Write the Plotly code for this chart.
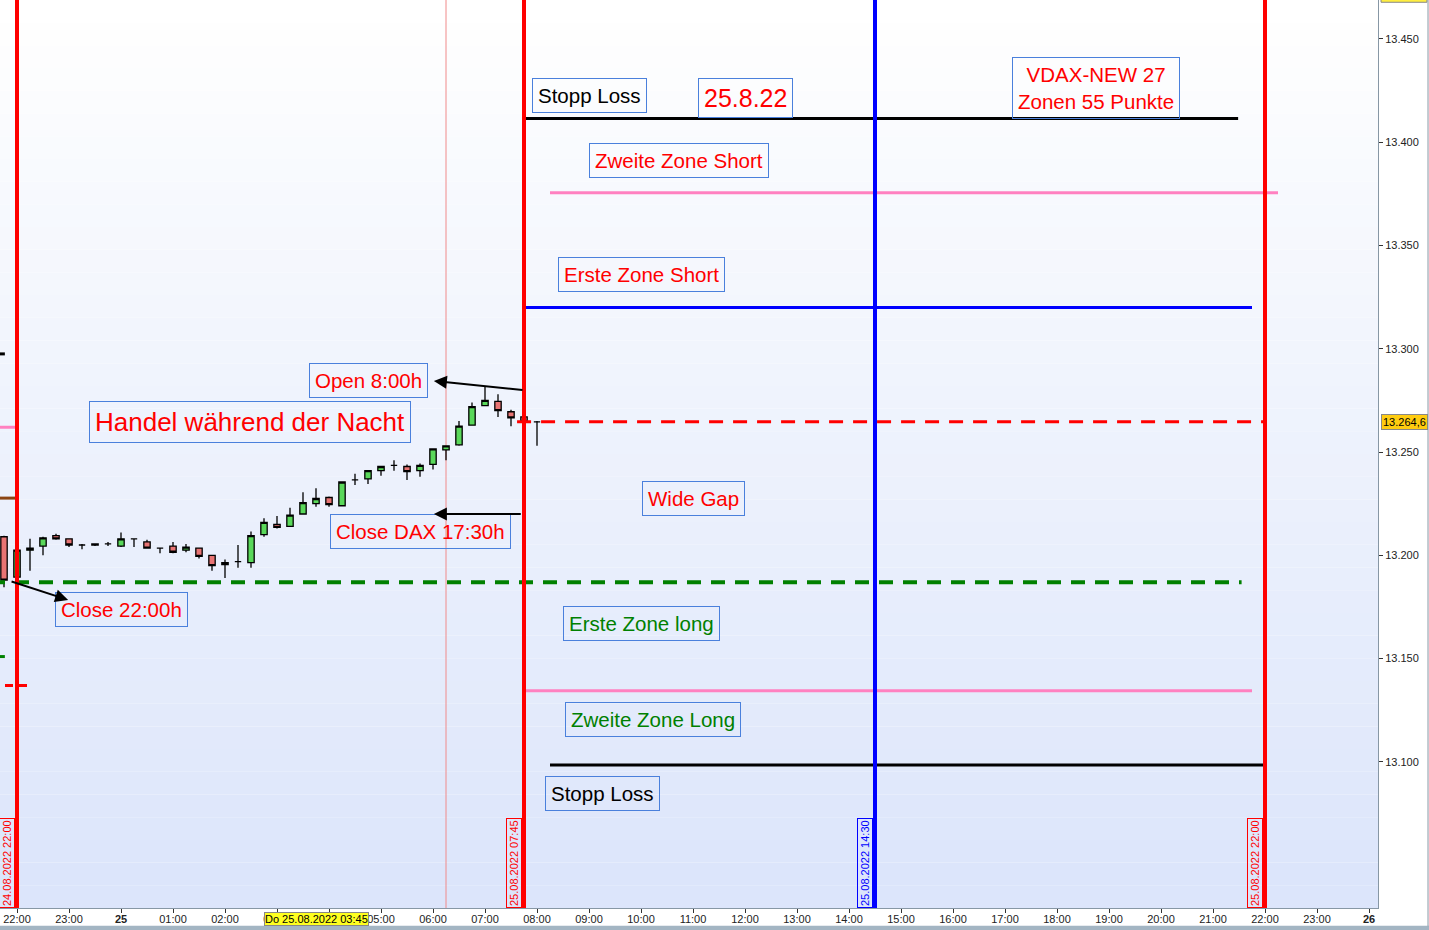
import pandas as pd
from plotly import graph_objs as go

# 15-minute candles, 24.08.2022 21:45 .. 25.08.2022 08:00
candle_times = pd.date_range("2022-08-24 21:45", periods=42, freq="15min")
opens = [13209, 13189.5, 13202.5, 13204.5, 13209.5, 13208, 13205, 13205.5, 13205.5, 13204.5,
         13208, 13206.5, 13203.5, 13204.5, 13202.5, 13203.5, 13200, 13195.5, 13197, 13196.5,
         13210, 13215, 13214, 13220, 13225, 13228, 13224, 13236.5, 13237, 13241,
         13243.5, 13243, 13241, 13244, 13251, 13253.5, 13263, 13272.5, 13274.5, 13269.5,
         13267, 13264.6]
highs = [13209.5, 13202.5, 13208, 13209, 13210.5, 13208, 13205.5, 13205.5, 13206.5, 13211,
         13208, 13207.5, 13203.5, 13206.5, 13205.5, 13203.5, 13200, 13198, 13205, 13211.5,
         13218, 13219, 13223, 13230.5, 13232.5, 13228.5, 13235.5, 13239.5, 13241, 13243,
         13246, 13244, 13244.5, 13251.5, 13253, 13265, 13274, 13282, 13278, 13270.5,
         13267, 13265]
lows = [13184.5, 13189.5, 13192.5, 13200, 13207.5, 13204, 13203, 13204.5, 13204.5, 13204,
        13204, 13203.5, 13201, 13201, 13201.5, 13198.5, 13192.5, 13189, 13194, 13194,
        13209, 13213, 13214, 13220, 13223.5, 13223.5, 13224, 13234, 13234.5, 13238.5,
        13241, 13236.5, 13238, 13241.5, 13246, 13253, 13263, 13272.5, 13267, 13262.5,
        13264.5, 13253]
closes = [13188, 13202.5, 13203.5, 13208.5, 13208, 13205, 13205, 13205, 13205.5, 13208,
          13208, 13203.5, 13203.5, 13201.5, 13204, 13199.5, 13195, 13196.5, 13197, 13209.5,
          13216, 13213.5, 13219.5, 13225.5, 13227.5, 13224.5, 13235.5, 13236.5, 13241, 13243,
          13243.5, 13240.5, 13243.5, 13251.5, 13253, 13262.5, 13272, 13275, 13270, 13266.5,
          13264.5, 13264.6]

last_price = 13264.6
last_price_text = "13.264,6"

# horizontal zone lines
zone_levels = [13411.5, 13375.5, 13320, 13264.6, 13187, 13134.5, 13098.5]
zone_starts = ["2022-08-25 07:45", "2022-08-25 08:15", "2022-08-25 07:45", "2022-08-25 07:37",
               "2022-08-24 21:30", "2022-08-25 07:45", "2022-08-25 08:15"]
zone_ends = ["2022-08-25 21:29", "2022-08-25 22:15", "2022-08-25 21:45", "2022-08-25 21:58",
             "2022-08-25 21:33", "2022-08-25 21:45", "2022-08-25 22:00"]
zone_colors = ["black", "#ff80c0", "#0000ff", "#ff0000", "#008000", "#ff80c0", "black"]
zone_dash = ["solid", "solid", "solid", "dash", "dash", "solid", "solid"]

# stubs of the previous day's lines at the left edge
stub_levels = [13297.5, 13262, 13227.7, 13151, 13137]
stub_ends = ["2022-08-24 21:46", "2022-08-24 21:58", "2022-08-24 21:58", "2022-08-24 21:46", "2022-08-24 22:15"]
stub_colors = ["black", "#ff80c0", "#8b4513", "#008000", "#ff0000"]
stub_dash = ["solid", "solid", "solid", "solid", "dash"]

# vertical markers
marker_times = ["2022-08-24 22:00", "2022-08-25 07:45", "2022-08-25 14:30", "2022-08-25 22:00"]
marker_labels = ["24.08.2022 22:00", "25.08.2022 07:45", "25.08.2022 14:30", "25.08.2022 22:00"]
marker_colors = ["#ff0000", "#ff0000", "#0000ff", "#ff0000"]
thin_line_time = "2022-08-25 06:15"

# text boxes
box_texts = ["Stopp Loss", "25.8.22", "VDAX-NEW 27<br>Zonen 55 Punkte", "Zweite Zone Short",
             "Erste Zone Short", "Open 8:00h", "Handel während der Nacht", "Wide Gap",
             "Close DAX 17:30h", "Close 22:00h", "Erste Zone long", "Zweite Zone Long", "Stopp Loss"]
box_x = ["2022-08-25 09:00", "2022-08-25 12:00", "2022-08-25 18:45", "2022-08-25 10:44",
         "2022-08-25 10:00", "2022-08-25 04:45", "2022-08-25 02:29", "2022-08-25 11:00",
         "2022-08-25 05:45", "2022-08-25 00:00", "2022-08-25 10:00", "2022-08-25 10:14",
         "2022-08-25 09:15"]
box_y = [13422.8, 13421.3, 13426.4, 13391.3, 13335.9, 13284.8, 13264.5, 13227.7,
         13211.5, 13173.8, 13167.2, 13120.5, 13084.5]
box_colors = ["black", "red", "red", "red", "red", "red", "red", "red", "red", "red",
              "green", "green", "black"]
box_sizes = [20.5, 25, 20.5, 20.5, 20.5, 20.5, 26, 20.5, 20.5, 20.5, 20.5, 20.5, 20.5]

# arrows: head and tail
arrow_head_x = ["2022-08-25 06:01", "2022-08-25 06:01", "2022-08-24 22:59"]
arrow_head_y = [13284.4, 13220, 13178.4]
arrow_tail_x = ["2022-08-25 07:45", "2022-08-25 07:43", "2022-08-24 21:52"]
arrow_tail_y = [13280, 13220, 13187.6]

tick_times = pd.date_range("2022-08-24 22:00", periods=27, freq="1h")
tick_labels = [("<b>25</b>" if t.hour == 0 and t.day == 25 else "<b>26</b>" if t.hour == 0 else t.strftime("%H:%M"))
               for t in tick_times]
price_ticks = [13100, 13150, 13200, 13250, 13300, 13350, 13400, 13450]
price_labels = ["13.100", "13.150", "13.200", "13.250", "13.300", "13.350", "13.400", "13.450"]

font = "Arial, Liberation Sans, sans-serif"

fig = go.Figure()
fig.add_trace(
    go.Candlestick(
        x=candle_times, open=opens, high=highs, low=lows, close=closes,
        increasing=dict(line=dict(color="black", width=1.3), fillcolor="#5ad85a"),
        decreasing=dict(line=dict(color="black", width=1.3), fillcolor="#e87474"),
        whiskerwidth=0,
        showlegend=False,
        hoverinfo="skip",
    )
)

shapes = []
# gradient background
steps = 40
for i in range(steps):
    f = i / (steps - 1)
    r = int(220 + (255 - 220) * f)
    g = int(229 + (255 - 229) * f)
    b = int(251 + (255 - 251) * f)
    shapes.append(dict(type="rect", xref="paper", yref="paper", x0=0, x1=1,
                       y0=i / steps, y1=(i + 1) / steps, fillcolor=f"rgb({r},{g},{b})",
                       line=dict(width=0), layer="below"))

shapes.append(dict(type="line", xref="x", yref="paper", x0=thin_line_time, x1=thin_line_time,
                   y0=0, y1=1, line=dict(color="#f08a8a", width=1), layer="below"))

for lvl, x0, x1, col, dash in zip(zone_levels, zone_starts, zone_ends, zone_colors, zone_dash):
    w = 4 if col == "#008000" else 3
    shapes.append(dict(type="line", xref="x", yref="y", x0=x0, x1=x1, y0=lvl, y1=lvl,
                       line=dict(color=col, width=w, dash="14px,10px" if dash == "dash" else "solid")))

for lvl, x1, col, dash in zip(stub_levels, stub_ends, stub_colors, stub_dash):
    shapes.append(dict(type="line", xref="x", yref="y", x0="2022-08-24 21:30", x1=x1, y0=lvl, y1=lvl,
                       line=dict(color=col, width=3, dash="8px,6px" if dash == "dash" else "solid")))

for t, col in zip(marker_times, marker_colors):
    shapes.append(dict(type="line", xref="x", yref="paper", x0=t, x1=t, y0=0, y1=1,
                       line=dict(color=col, width=4)))

# bottom band, right frame and the cut-off price box at the top right
shapes.append(dict(type="rect", xref="paper", yref="paper", x0=-0.01, x1=1.04, y0=-0.0245, y1=-0.0195,
                   fillcolor="#a3b5c3", line=dict(width=0)))
shapes.append(dict(type="line", xref="paper", yref="paper", x0=1.0363, x1=1.0363, y0=-0.02, y1=1,
                   line=dict(color="#8797a5", width=1)))
shapes.append(dict(type="rect", xref="paper", yref="paper", x0=1.0022, x1=1.0355, y0=0.9975, y1=1.01,
                   fillcolor="#ffee40", line=dict(color="#888888", width=1)))

annotations = []
for txt, x, y, col, size in zip(box_texts, box_x, box_y, box_colors, box_sizes):
    annotations.append(dict(text=txt, x=x, y=y, xref="x", yref="y", showarrow=False,
                            font=dict(family=font, size=size, color=col),
                            bordercolor="#4a80dc", borderwidth=1, borderpad=5,
                            xanchor="center", yanchor="middle"))

for hx, hy, tx, ty in zip(arrow_head_x, arrow_head_y, arrow_tail_x, arrow_tail_y):
    annotations.append(dict(text="", x=hx, y=hy, ax=tx, ay=ty, xref="x", yref="y",
                            axref="x", ayref="y", showarrow=True, arrowhead=2,
                            arrowsize=1.3, arrowwidth=2, arrowcolor="black"))

for t, lab, col in zip(marker_times, marker_labels, marker_colors):
    annotations.append(dict(text=lab, x=t, y=0, xref="x", yref="paper", showarrow=False,
                            textangle=-90, xanchor="right", yanchor="bottom", xshift=-2,
                            font=dict(family=font, size=11, color=col),
                            bordercolor=col, borderwidth=1, borderpad=1))

annotations.append(dict(text="Do 25.08.2022 03:45", x="2022-08-25 03:45", y=-0.0122, xref="x", yref="paper",
                        showarrow=False, xanchor="center", yanchor="middle",
                        font=dict(family=font, size=11, color="black"),
                        bgcolor="#ffff20", bordercolor="#888888", borderwidth=1, borderpad=0))
annotations.append(dict(text=last_price_text, x=1, y=last_price, xref="paper", yref="y",
                        showarrow=False, xanchor="left", yanchor="middle", xshift=3,
                        font=dict(family=font, size=11, color="black"),
                        bgcolor="#ffcc10", bordercolor="#888888", borderwidth=1, borderpad=1))

fig.update_layout(
    width=1429,
    height=930,
    margin=dict(l=0, r=51, t=0, b=22),
    paper_bgcolor="white",
    plot_bgcolor="white",
    font=dict(family=font, size=11, color="#222222"),
    showlegend=False,
    shapes=shapes,
    annotations=annotations,
    xaxis=dict(
        range=["2022-08-24 21:40:23", "2022-08-26 00:10:23"],
        rangeslider=dict(visible=False),
        tickvals=tick_times,
        ticktext=tick_labels,
        ticks="outside",
        ticklen=4,
        ticklabelstandoff=-3,
        tickcolor="#333333",
        showgrid=False,
        zeroline=False,
        showline=True,
        linecolor="#8797a5",
        tickfont=dict(size=11, color="#222222"),
    ),
    yaxis=dict(
        side="right",
        range=[13029.3, 13468.8],
        tickvals=price_ticks,
        ticktext=price_labels,
        ticks="outside",
        ticklen=4,
        tickcolor="#333333",
        showgrid=False,
        zeroline=False,
        showline=True,
        linecolor="#8797a5",
        tickfont=dict(size=11, color="#222222"),
    ),
)

# the page body has a default 8px margin; remove it so the chart fills the window
fig.write_html("out.html", config={"displayModeBar": False},
               post_script="document.body.style.margin='0';")
